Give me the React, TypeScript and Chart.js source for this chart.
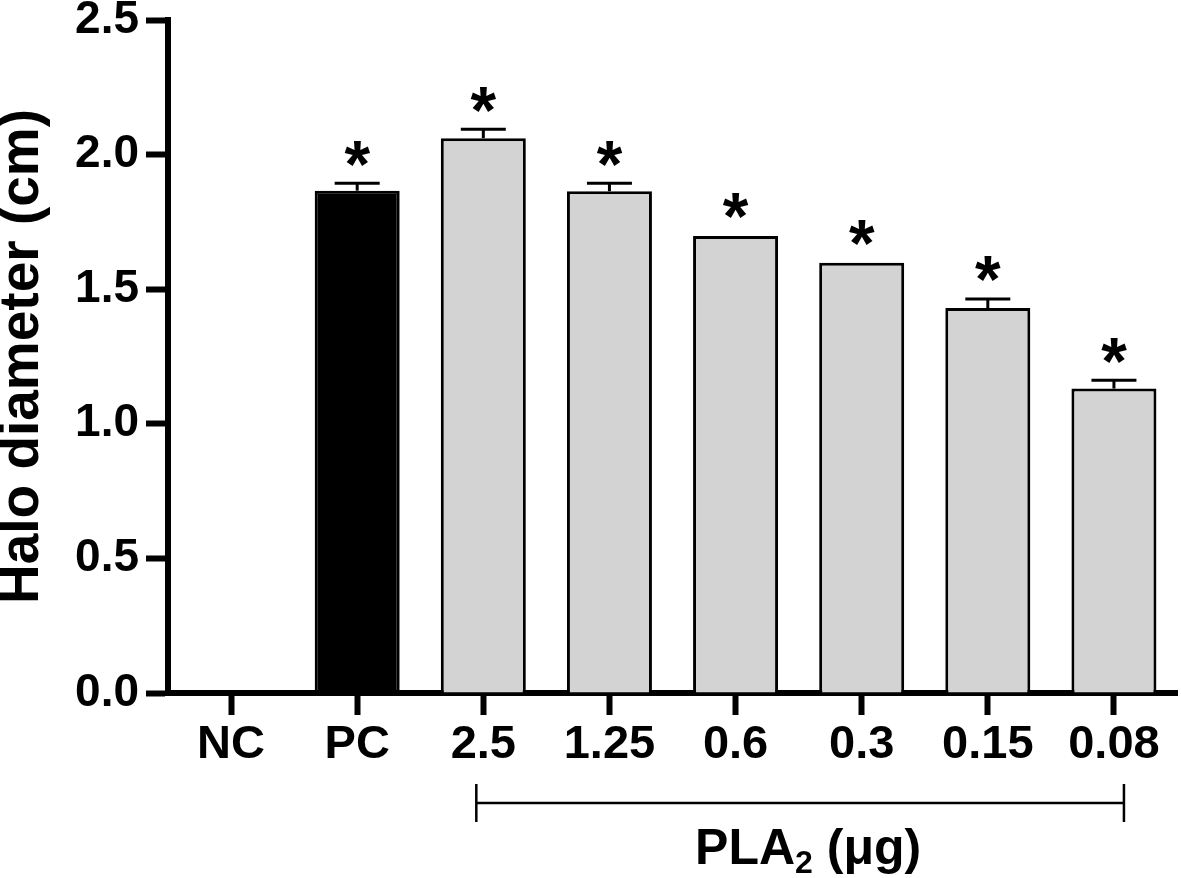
import React, { useEffect, useRef } from 'react';
import { Chart, registerables } from 'chart.js';

Chart.register(...registerables);

const categories = ['NC', 'PC', '2.5', '1.25', '0.6', '0.3', '0.15', '0.08'];
const meanValues = [0, 1.866, 2.061, 1.864, 1.698, 1.598, 1.43, 1.131];
const semValues = [0, 0.028, 0.033, 0.03, 0, 0, 0.034, 0.031];
const significant = [false, true, true, true, true, true, true, true];
const yTickValues = [0, 0.5, 1.0, 1.5, 2.0, 2.5];
const yAxisTitle = 'Halo diameter (cm)';
const groupLabelMain = 'PLA';
const groupLabelSub = '2';
const groupLabelTail = ' (μg)';
const groupFirstIndex = 2;
const groupLastIndex = 7;

const FONT = '"Liberation Sans", Arial, Helvetica, sans-serif';

const annotationPlugin = {
  id: 'errorBarsAndStars',
  afterDatasetsDraw(chart: any) {
    const { ctx } = chart;
    const meta = chart.getDatasetMeta(0);
    const yScale = chart.scales.y;
    ctx.save();
    ctx.strokeStyle = '#000';
    ctx.fillStyle = '#000';
    ctx.font = `bold 100px ${FONT}`;
    const m100 = ctx.measureText('*');
    const h100 = m100.actualBoundingBoxAscent + m100.actualBoundingBoxDescent;
    const starSize = (100 * 25) / h100;
    meta.data.forEach((bar: any, i: number) => {
      const mean = meanValues[i];
      const sem = semValues[i];
      const x = bar.x;
      const yBar = yScale.getPixelForValue(mean);
      let gapBase = yBar - 2;
      if (sem > 0) {
        const yErr = yScale.getPixelForValue(mean + sem);
        ctx.lineWidth = 3;
        ctx.lineCap = 'butt';
        ctx.beginPath();
        ctx.moveTo(x, yBar);
        ctx.lineTo(x, yErr);
        ctx.stroke();
        ctx.beginPath();
        ctx.moveTo(x - 22.5, yErr);
        ctx.lineTo(x + 22.5, yErr);
        ctx.stroke();
        gapBase = yErr - 1.5;
      }
      if (significant[i]) {
        ctx.font = `bold ${starSize}px ${FONT}`;
        const mm = ctx.measureText('*');
        ctx.textAlign = 'center';
        ctx.textBaseline = 'alphabetic';
        const bottom = gapBase - 16;
        ctx.fillText('*', x, bottom - mm.actualBoundingBoxDescent);
      }
    });
    ctx.restore();
  },
  afterDraw(chart: any) {
    const { ctx, chartArea } = chart;
    const xScale = chart.scales.x;
    const left = xScale.getPixelForValue(groupFirstIndex) - 7;
    const right = xScale.getPixelForValue(groupLastIndex) + 10;
    const yLine = chartArea.bottom + 110;
    ctx.save();
    ctx.strokeStyle = '#000';
    ctx.lineWidth = 2.5;
    ctx.beginPath();
    ctx.moveTo(left, yLine);
    ctx.lineTo(right, yLine);
    ctx.moveTo(left, yLine - 19);
    ctx.lineTo(left, yLine + 19);
    ctx.moveTo(right, yLine - 19);
    ctx.lineTo(right, yLine + 19);
    ctx.stroke();

    // group label with subscript
    ctx.fillStyle = '#000';
    ctx.textBaseline = 'alphabetic';
    ctx.textAlign = 'left';
    const mainFont = `bold 50px ${FONT}`;
    const subFont = `bold 32px ${FONT}`;
    ctx.font = mainFont;
    const wMain = ctx.measureText(groupLabelMain).width;
    const wTail = ctx.measureText(groupLabelTail).width;
    ctx.font = subFont;
    const wSub = ctx.measureText(groupLabelSub).width;
    const total = wMain + wSub + wTail;
    const center = (left + right) / 2 + 8;
    let x = center - total / 2;
    const baseline = chartArea.bottom + 171;
    ctx.font = mainFont;
    ctx.fillText(groupLabelMain, x, baseline);
    x += wMain;
    ctx.font = subFont;
    ctx.fillText(groupLabelSub, x, baseline + 9);
    x += wSub;
    ctx.font = mainFont;
    ctx.fillText(groupLabelTail, x, baseline);
    ctx.restore();
  },
};

export default function App() {
  const canvasRef = useRef<HTMLCanvasElement | null>(null);

  useEffect(() => {
    const canvas = canvasRef.current;
    if (!canvas) return;
    const chart = new Chart(canvas, {
      type: 'bar',
      data: {
        labels: categories,
        datasets: [
          {
            data: meanValues,
            backgroundColor: (c: any) => (c.dataIndex === 1 ? '#000000' : '#d3d3d3'),
            borderColor: '#000000',
            borderWidth: 3,
            barPercentage: 0.674,
            categoryPercentage: 1,
          },
        ],
      },
      options: {
        responsive: false,
        animation: false,
        devicePixelRatio: 1,
        layout: { padding: { left: 0, right: 4, top: 20, bottom: 0 } },
        plugins: {
          legend: { display: false },
          tooltip: { enabled: false },
          title: { display: false },
        },
        scales: {
          x: {
            type: 'category',
            grid: {
              drawOnChartArea: false,
              offset: false,
              tickLength: 22,
              tickWidth: 6,
              tickColor: '#000',
            },
            border: { display: true, width: 6, color: '#000' },
            ticks: {
              color: '#000',
              font: { size: 47, weight: 'bold', family: FONT },
              padding: 2,
              maxRotation: 0,
              autoSkip: false,
            },
            afterFit: (s: any) => {
              s.height = 185;
              s.paddingLeft = 0;
              s.paddingRight = 0;
            },
          },
          y: {
            type: 'linear',
            min: 0,
            max: 2.5,
            afterBuildTicks: (s: any) => {
              s.ticks = yTickValues.map((v) => ({ value: v }));
            },
            grid: {
              drawOnChartArea: false,
              tickLength: 22,
              tickWidth: 6,
              tickColor: '#000',
            },
            border: { display: true, width: 6, color: '#000' },
            ticks: {
              color: '#000',
              font: { size: 46, weight: 'bold', family: FONT },
              padding: 7,
              callback: (v: any) => Number(v).toFixed(1),
            },
            title: {
              display: true,
              text: yAxisTitle,
              color: '#000',
              font: { size: 55, weight: 'bold', family: FONT, lineHeight: 0.82 },
              padding: 0,
            },
            afterFit: (s: any) => {
              s.width = 168;
              s.paddingTop = 0;
              s.paddingBottom = 0;
            },
          },
        },
      },
      plugins: [annotationPlugin],
    });
    return () => chart.destroy();
  }, []);

  return (
    <div
      style={{
        position: 'fixed',
        left: 0,
        top: 0,
        width: 1181,
        height: 878,
        background: '#ffffff',
      }}
    >
      <canvas
        ref={canvasRef}
        width={1181}
        height={878}
        style={{ display: 'block', width: 1181, height: 878 }}
      />
    </div>
  );
}
